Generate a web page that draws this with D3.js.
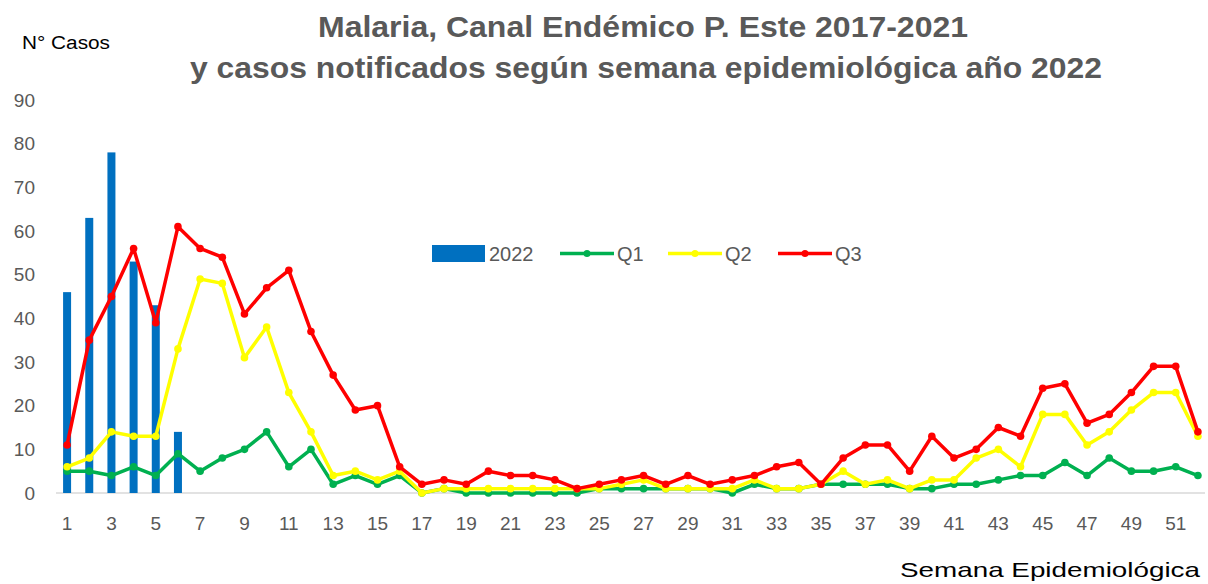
<!DOCTYPE html>
<html>
<head>
<meta charset="utf-8">
<script src="https://cdn.jsdelivr.net/npm/d3@7"></script>
<style>
  body { margin: 0; background: #fff; }
  svg { display: block; font-family: Arial, "Liberation Sans", sans-serif; }
</style>
</head>
<body>
<svg id="chart" width="1208" height="584"></svg>
<script>
// Semanas epidemiologicas 1..52
const weeks = d3.range(1, 53);
const weekTicks = weeks.filter((w) => w % 2 === 1);
const yTicks = [0, 10, 20, 30, 40, 50, 60, 70, 80, 90];

// Casos 2022 (solo semanas 1-6)
const cases2022 = [46, 63, 78, 53, 43, 14];

// Canal endemico 2017-2021
const q1 = [5, 5, 4, 6, 4, 9, 5, 8, 10, 14, 6, 10, 2, 4, 2, 4, 0, 1, 0, 0,
  0, 0, 0, 0, 1, 1, 1, 1, 1, 1, 0, 2, 1, 1, 2, 2, 2, 2, 1, 1,
  2, 2, 3, 4, 4, 7, 4, 8, 5, 5, 6, 4];
const q2 = [6, 8, 14, 13, 13, 33, 49, 48, 31, 38, 23, 14, 4, 5, 3, 5, 0, 1, 1, 1,
  1, 1, 1, 1, 1, 2, 3, 1, 1, 1, 1, 3, 1, 1, 2, 5, 2, 3, 1, 3,
  3, 8, 10, 6, 18, 18, 11, 14, 19, 23, 23, 13];
const q3 = [11, 35, 45, 56, 39, 61, 56, 54, 41, 47, 51, 37, 27, 19, 20, 6, 2, 3, 2, 5,
  4, 4, 3, 1, 2, 3, 4, 2, 4, 2, 3, 4, 6, 7, 2, 8, 11, 11, 5, 13,
  8, 10, 15, 13, 24, 25, 16, 18, 23, 29, 29, 14];

const titleLines = [
  'Malaria, Canal Endémico P. Este 2017-2021',
  'y casos notificados según semana epidemiológica año 2022',
];

const series = [
  { name: 'Q1', values: q1, color: '#00B050' },
  { name: 'Q2', values: q2, color: '#FFFF00' },
  { name: 'Q3', values: q3, color: '#FF0000' },
];

const svg = d3.select('#chart');
const textColor = '#595959';

const x = d3.scaleBand()
  .domain(weeks)
  .range([56, 1209]);

const y = d3.scaleLinear()
  .domain([0, 90])
  .range([493, 100]);

const cx = (w) => x(w) + x.bandwidth() / 2;

// Title
svg.append('text')
  .attr('x', 643)
  .attr('y', 37)
  .attr('text-anchor', 'middle')
  .attr('font-size', 30)
  .attr('font-weight', 'bold')
  .attr('fill', textColor)
  .attr('textLength', 650)
  .attr('lengthAdjust', 'spacingAndGlyphs')
  .text(titleLines[0]);

svg.append('text')
  .attr('x', 646)
  .attr('y', 78)
  .attr('text-anchor', 'middle')
  .attr('font-size', 30)
  .attr('font-weight', 'bold')
  .attr('fill', textColor)
  .attr('textLength', 912)
  .attr('lengthAdjust', 'spacingAndGlyphs')
  .text(titleLines[1]);

// Axis titles
svg.append('text')
  .attr('x', 22)
  .attr('y', 49)
  .attr('font-size', 18)
  .attr('fill', '#000')
  .attr('textLength', 88)
  .attr('lengthAdjust', 'spacingAndGlyphs')
  .text('N° Casos');

svg.append('text')
  .attr('x', 900)
  .attr('y', 577)
  .attr('font-size', 21)
  .attr('fill', '#000')
  .attr('textLength', 300)
  .attr('lengthAdjust', 'spacingAndGlyphs')
  .text('Semana Epidemiológica');

// Y axis (labels only)
const yAxis = svg.append('g')
  .attr('transform', 'translate(35, 0)')
  .call(d3.axisLeft(y).tickValues(yTicks).tickSize(0).tickPadding(0));
yAxis.select('.domain').remove();
yAxis.selectAll('text')
  .attr('font-size', 19)
  .attr('font-family', 'Arial, "Liberation Sans", sans-serif')
  .attr('fill', textColor);

// X axis (labels only)
const xAxis = svg.append('g')
  .attr('transform', 'translate(0, 493)')
  .call(d3.axisBottom(x).tickValues(weekTicks).tickSize(0).tickPadding(24));
xAxis.select('.domain').remove();
xAxis.selectAll('text')
  .attr('font-size', 19)
  .attr('font-family', 'Arial, "Liberation Sans", sans-serif')
  .attr('fill', textColor);

// Baseline
svg.append('line')
  .attr('x1', x.range()[0])
  .attr('x2', x.range()[1] - 4)
  .attr('y1', y(0))
  .attr('y2', y(0))
  .attr('stroke', '#d9d9d9')
  .attr('stroke-width', 1.5);

// Bars 2022
const barWidth = 8;
svg.append('g')
  .selectAll('rect')
  .data(cases2022)
  .enter()
  .append('rect')
  .attr('x', (d, i) => cx(weeks[i]) - barWidth / 2)
  .attr('y', (d) => y(d))
  .attr('width', barWidth)
  .attr('height', (d) => y(0) - y(d))
  .attr('fill', '#0070C0');

// Lines
const line = d3.line()
  .x((d, i) => cx(weeks[i]))
  .y((d) => y(d));

series.forEach((s) => {
  const g = svg.append('g');
  g.append('path')
    .datum(s.values)
    .attr('fill', 'none')
    .attr('stroke', s.color)
    .attr('stroke-width', 3.5)
    .attr('stroke-linejoin', 'round')
    .attr('d', line);

  g.selectAll('circle')
    .data(s.values)
    .enter()
    .append('circle')
    .attr('cx', (d, i) => cx(weeks[i]))
    .attr('cy', (d) => y(d))
    .attr('r', 3.8)
    .attr('fill', s.color);
});

// Legend
const legend = svg.append('g').attr('font-size', 20).attr('fill', textColor);

legend.append('rect')
  .attr('x', 432)
  .attr('y', 245)
  .attr('width', 53)
  .attr('height', 17)
  .attr('fill', '#0070C0');
legend.append('text')
  .attr('x', 489)
  .attr('y', 261)
  .text('2022');

const legendX = [560, 668, 778];
series.forEach((s, i) => {
  const lx = legendX[i];
  legend.append('line')
    .attr('x1', lx)
    .attr('x2', lx + 54)
    .attr('y1', 253.5)
    .attr('y2', 253.5)
    .attr('stroke', s.color)
    .attr('stroke-width', 3.5);
  legend.append('circle')
    .attr('cx', lx + 27)
    .attr('cy', 253.5)
    .attr('r', 3.5)
    .attr('fill', s.color);
  legend.append('text')
    .attr('x', lx + 57)
    .attr('y', 261)
    .text(s.name);
});
</script>
</body>
</html>
